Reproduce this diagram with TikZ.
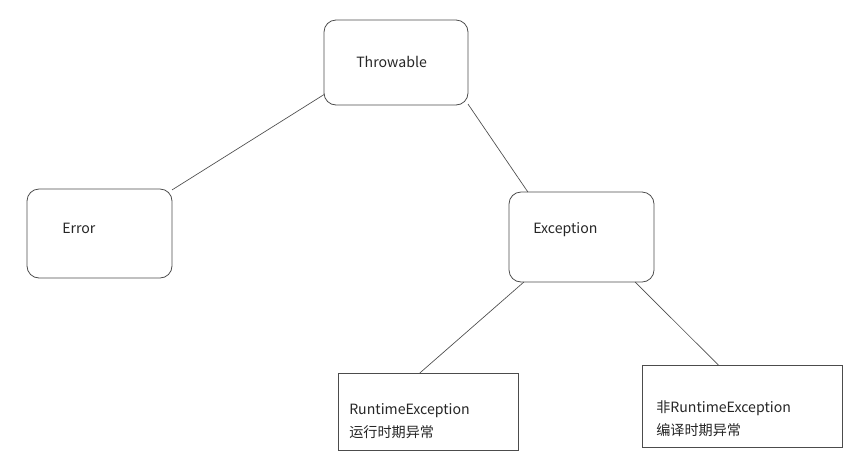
\documentclass[tikz,border=0pt]{standalone}
\usepackage{fontspec}
\setmainfont{Noto Sans CJK SC}

\begin{document}
\begin{tikzpicture}[x=0.75pt,y=-0.75pt,
    box/.style={draw=black!70, line width=0.6pt, inner sep=0pt, outer sep=0pt},
    rbox/.style={box, rounded corners=9pt},
    txt/.style={anchor=west, inner sep=0pt, text=black!85, font=\fontsize{10.6}{17.5}\selectfont, align=left},
    link/.style={draw=black!70, line width=0.5pt}]
    \useasboundingbox (0,0) rectangle (866,472);
    % abgerundete Kästen:
    \node[rbox, minimum width=108pt, minimum height=63.75pt] (throwable) at (396,62.5) {}; % oben
    \node[rbox, minimum width=108.75pt, minimum height=66.75pt] (error) at (99.5,233.5) {}; % links
    \node[rbox, minimum width=108.75pt, minimum height=67.5pt] (exception) at (581.5,237) {}; % rechts
    % eckige Kästen:
    \node[box, minimum width=135pt, minimum height=57.75pt] (runtime) at (428,411.5) {};
    \node[box, minimum width=150pt, minimum height=61.5pt] (checked) at (742,406) {};
    % Texte:
    \node[txt] (throwableText) at (356,62) {Throwable};
    \node[txt] (errorText) at (62,228) {Error};
    \node[txt] (exceptionText) at (533,230) {Exception};
    \node[txt] (runtimeText) at (349,421) {RuntimeException\\运行时期异常};
    \node[txt] (checkedText) at (656,419) {非RuntimeException\\编译时期异常};
    % Verbindungen:
\draw[link] (throwable.204.6) -- (error.31);
\draw[link] (throwable.330) -- (exception.140);
\draw[link] (exception.218) -- (runtime.102);
\draw[link] (exception.320) -- (checked.120);
\end{tikzpicture}
\end{document}
